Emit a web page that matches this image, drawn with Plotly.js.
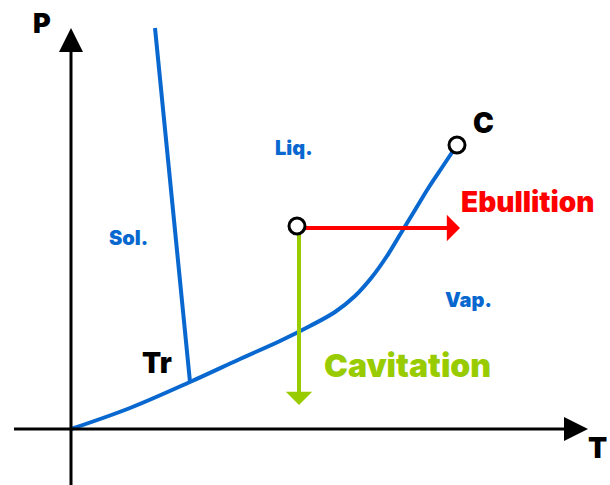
<!DOCTYPE html>
<html><head><meta charset="utf-8">
<script src="https://cdn.plot.ly/plotly-3.0.1.min.js"></script>
<style>html,body{margin:0;padding:0;background:#fff}#chart{width:610px;height:485px}</style>
</head><body><div id="chart"></div>
<script>
// Vaporisation curve (T, P) from origin to critical point
const vapT = [0, 59, 119, 169, 209, 239, 264, 284, 301, 316, 330, 344, 358, 372, 386];
const vapP = [0, 21, 47, 70, 88, 103, 117, 133, 152, 173, 196, 219, 242, 263, 284];
// Fusion curve from triple point upward
const fusT = [119, 84];
const fusP = [47, 401];
// Special points
const critical = {T: 386, P: 284};
const state = {T: 226, P: 203};
const ebullitionEnd = {T: 389, P: 201};
const cavitationEnd = {T: 228, P: 24};
// Axis extents
const axisT = [-57, 517];
const axisP = [-57, 401];
const regionLabels = ['Sol.', 'Liq.', 'Vap.'];
const regionT = [57, 223, 397];
const regionP = [191, 281, 129];

const blue = '#0868D0';
const red = '#FF0000';
const green = '#99CC00';
const F = 'Inter';

const traces = [
  {x: vapT, y: vapP, mode: 'lines', line: {color: blue, width: 4, shape: 'spline', smoothing: 1}, hoverinfo: 'skip'},
  {x: fusT, y: fusP, mode: 'lines', line: {color: blue, width: 4}, hoverinfo: 'skip'},
  {x: [state.T + 7, ebullitionEnd.T - 10], y: [ebullitionEnd.P, ebullitionEnd.P], mode: 'lines', line: {color: red, width: 4}, hoverinfo: 'skip'},
  {x: [cavitationEnd.T, cavitationEnd.T], y: [state.P - 8, cavitationEnd.P + 10], mode: 'lines', line: {color: green, width: 4}, hoverinfo: 'skip'},
  {x: [axisT[0], axisT[1] - 12], y: [0, 0], mode: 'lines', line: {color: '#000', width: 3}, hoverinfo: 'skip'},
  {x: [0, 0], y: [axisP[0], axisP[1] - 12], mode: 'lines', line: {color: '#000', width: 3}, hoverinfo: 'skip'},
  {x: [state.T, critical.T], y: [state.P, critical.P], mode: 'markers',
   marker: {size: 16, color: '#fff', line: {color: '#000', width: 3}}, hoverinfo: 'skip'}
];

function arrow(tipT, tipP, tailT, tailP, color, w, size, head) {
  return {x: tipT, y: tipP, ax: tailT, ay: tailP, xref: 'x', yref: 'y', axref: 'x', ayref: 'y',
    text: '', showarrow: true, arrowhead: head, arrowsize: size, arrowwidth: w, arrowcolor: color, standoff: 0};
}
function label(t, T, P, color, size) {
  return {x: T, y: P, xref: 'x', yref: 'y', text: t, showarrow: false,
    font: {family: F, size: size, color: color, weight: 900}, xanchor: 'center', yanchor: 'middle'};
}

const annotations = [
  arrow(axisT[1], 0, axisT[1] - 20, 0, '#000', 3, 1.6, 2),
  arrow(0, axisP[1], 0, axisP[1] - 20, '#000', 3, 1.6, 2),
  arrow(ebullitionEnd.T, ebullitionEnd.P, ebullitionEnd.T - 14, ebullitionEnd.P, red, 4, 1.1, 1),
  arrow(cavitationEnd.T, cavitationEnd.P, cavitationEnd.T, cavitationEnd.P + 14, green, 4, 1.1, 1),
  label(regionLabels[0], regionT[0], regionP[0], blue, 20),
  label(regionLabels[1], regionT[1], regionP[1], blue, 20),
  label(regionLabels[2], regionT[2], regionP[2], blue, 20),
  label('Tr', 86, 66, '#000', 28),
  label('C', 412, 306, '#000', 28),
  label('P', -29, 406, '#000', 27),
  label('T', 526, -19, '#000', 28),
  label('Ebullition', 456, 227, red, 28),
  label('Cavitation', 336, 64, green, 32)
];

const layout = {
  width: 610, height: 485, margin: {l: 0, r: 0, t: 0, b: 0},
  paper_bgcolor: '#fff', plot_bgcolor: '#fff', showlegend: false,
  xaxis: {range: [-71, 539], visible: false, fixedrange: true},
  yaxis: {range: [-56, 429], visible: false, fixedrange: true},
  annotations: annotations
};
Plotly.newPlot('chart', traces, layout, {staticPlot: true, displayModeBar: false});
</script></body></html>
